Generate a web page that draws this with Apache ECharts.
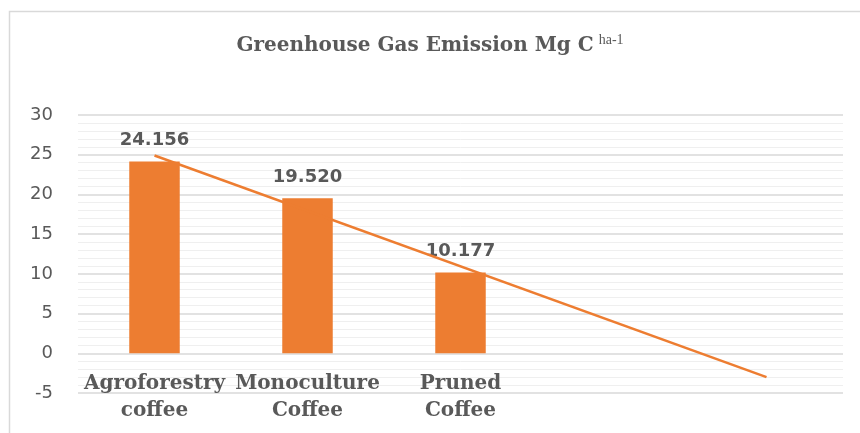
<!DOCTYPE html>
<html>
<head>
<meta charset="utf-8">
<script src="https://cdn.jsdelivr.net/npm/echarts@6/dist/echarts.min.js"></script>
<style>html,body{margin:0;padding:0;background:#fff}#c{width:860px;height:433px}</style>
</head>
<body>
<div id="c"></div>
<script>
const categories = ['Agroforestry\ncoffee', 'Monoculture\nCoffee', 'Pruned\nCoffee', '', ''];
const emissionValues = [24.156, 19.520, 10.177, null, null];
const trendValues = [24.9, null, null, null, -3.0];
const yTicks = { min: -5, max: 30, interval: 5 };
const titleMain = 'Greenhouse Gas Emission Mg C';
const titleSup = 'ha-1';

const chart = echarts.init(document.getElementById('c'), null, { renderer: 'canvas' });
chart.setOption({
  animation: false,
  backgroundColor: '#ffffff',
  graphic: [{
    type: 'rect', z: -10, silent: true,
    shape: { x: 9.5, y: 11.5, width: 900, height: 500 },
    style: { fill: 'none', stroke: '#d9d9d9', lineWidth: 1.5 }
  }],
  title: {
    text: '{a|' + titleMain + '} {b|' + titleSup + '}',
    left: 'center',
    top: 28,
    textStyle: {
      rich: {
        a: { fontFamily: 'DejaVu Serif', fontWeight: 'bold', fontSize: 20, color: '#595959', lineHeight: 26 },
        b: { fontFamily: 'Liberation Serif', fontWeight: 'normal', fontSize: 14, color: '#595959', verticalAlign: 'top', lineHeight: 26, padding: [0, 0, 16, 0] }
      }
    }
  },
  grid: { left: 78, right: 17, top: 115, bottom: 40, outerBoundsMode: 'none', containLabel: false },
  xAxis: {
    type: 'category',
    data: categories,
    boundaryGap: true,
    axisTick: { show: false },
    axisLine: { show: false },
    axisLabel: {
      interval: 0, margin: -23,
      fontFamily: 'DejaVu Serif', fontWeight: 'bold', fontSize: 20,
      color: '#595959', lineHeight: 27
    }
  },
  yAxis: {
    type: 'value',
    min: yTicks.min, max: yTicks.max, interval: yTicks.interval,
    axisLine: { show: false },
    axisTick: { show: false },
    axisLabel: { fontFamily: 'DejaVu Sans', fontSize: 18, color: '#595959', margin: 25 },
    splitLine: { show: true, lineStyle: { color: '#d9d9d9', width: 1.5 } },
    minorTick: { show: false, splitNumber: 5 },
    minorSplitLine: { show: true, lineStyle: { color: '#efefef', width: 1 } }
  },
  series: [
    {
      type: 'bar',
      data: emissionValues,
      barWidth: '33%',
      itemStyle: { color: '#ED7D31' },
      label: {
        show: true, position: 'top', distance: 12,
        fontFamily: 'DejaVu Sans', fontWeight: 'bold', fontSize: 18, color: '#595959',
        formatter: p => (p.value == null ? '' : p.value.toFixed(3))
      }
    },
    {
      type: 'line',
      data: trendValues,
      connectNulls: true,
      symbol: 'none',
      lineStyle: { color: '#ED7D31', width: 2.5 },
      z: 5
    }
  ]
});
</script>
</body>
</html>
